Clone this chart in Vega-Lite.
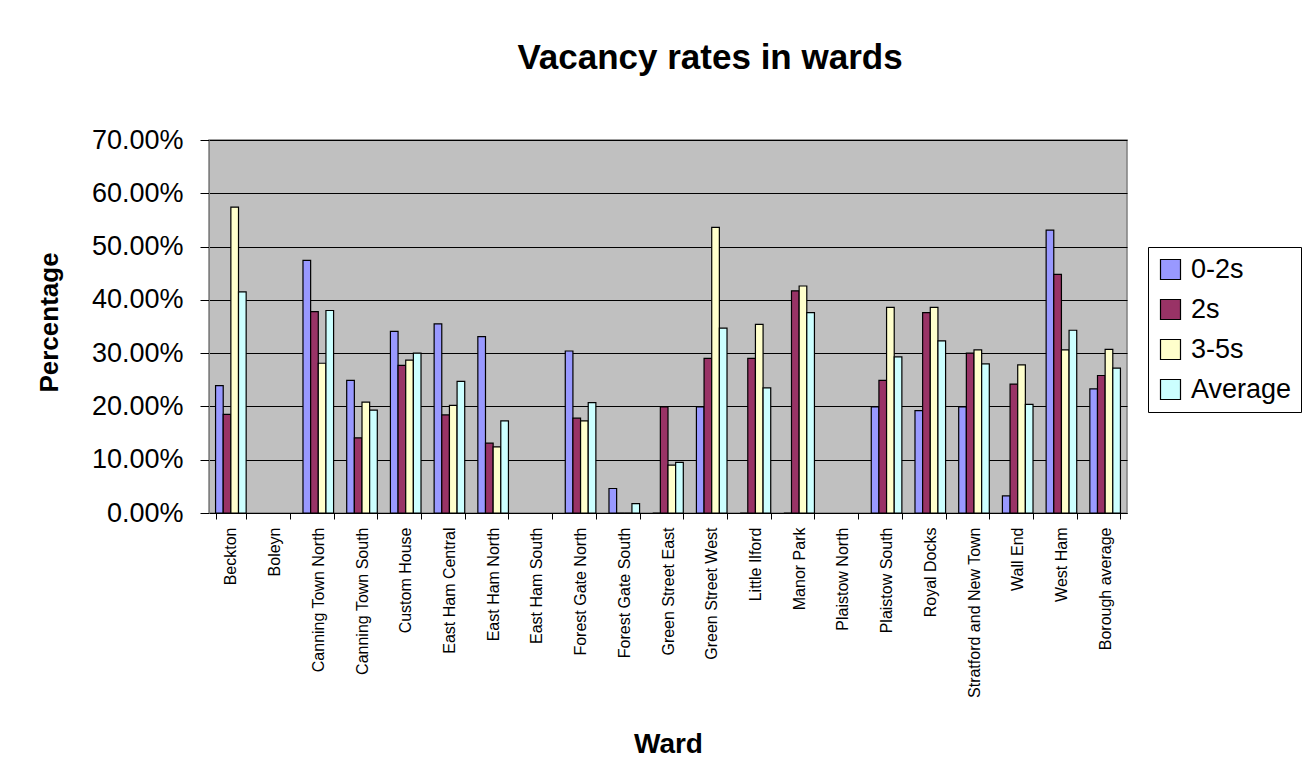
{
  "$schema": "https://vega.github.io/schema/vega-lite/v6.json",
  "width": 918,
  "height": 373,
  "autosize": {"type": "none"},
  "padding": {"left": 209, "top": 140, "right": 185, "bottom": 270},
  "background": "white",
  "title": {
    "text": "Vacancy rates in wards",
    "font": "Liberation Sans",
    "fontSize": 35,
    "fontWeight": "bold",
    "color": "black",
    "anchor": "middle",
    "frame": "group",
    "dx": 42,
    "offset": 50
  },
  "data": {
    "values": [
      {"ward": "Beckton", "series": "0-2s", "value": 0.239},
      {"ward": "Beckton", "series": "2s", "value": 0.185},
      {"ward": "Beckton", "series": "3-5s", "value": 0.574},
      {"ward": "Beckton", "series": "Average", "value": 0.415},
      {"ward": "Canning Town North", "series": "0-2s", "value": 0.474},
      {"ward": "Canning Town North", "series": "2s", "value": 0.378},
      {"ward": "Canning Town North", "series": "3-5s", "value": 0.281},
      {"ward": "Canning Town North", "series": "Average", "value": 0.380},
      {"ward": "Canning Town South", "series": "0-2s", "value": 0.249},
      {"ward": "Canning Town South", "series": "2s", "value": 0.141},
      {"ward": "Canning Town South", "series": "3-5s", "value": 0.208},
      {"ward": "Canning Town South", "series": "Average", "value": 0.193},
      {"ward": "Custom House", "series": "0-2s", "value": 0.341},
      {"ward": "Custom House", "series": "2s", "value": 0.277},
      {"ward": "Custom House", "series": "3-5s", "value": 0.287},
      {"ward": "Custom House", "series": "Average", "value": 0.300},
      {"ward": "East Ham Central", "series": "0-2s", "value": 0.355},
      {"ward": "East Ham Central", "series": "2s", "value": 0.184},
      {"ward": "East Ham Central", "series": "3-5s", "value": 0.202},
      {"ward": "East Ham Central", "series": "Average", "value": 0.247},
      {"ward": "East Ham North", "series": "0-2s", "value": 0.331},
      {"ward": "East Ham North", "series": "2s", "value": 0.131},
      {"ward": "East Ham North", "series": "3-5s", "value": 0.124},
      {"ward": "East Ham North", "series": "Average", "value": 0.173},
      {"ward": "Forest Gate North", "series": "0-2s", "value": 0.304},
      {"ward": "Forest Gate North", "series": "2s", "value": 0.178},
      {"ward": "Forest Gate North", "series": "3-5s", "value": 0.173},
      {"ward": "Forest Gate North", "series": "Average", "value": 0.207},
      {"ward": "Forest Gate South", "series": "0-2s", "value": 0.046},
      {"ward": "Forest Gate South", "series": "2s", "value": 0},
      {"ward": "Forest Gate South", "series": "3-5s", "value": 0},
      {"ward": "Forest Gate South", "series": "Average", "value": 0.0175},
      {"ward": "Green Street East", "series": "0-2s", "value": 0},
      {"ward": "Green Street East", "series": "2s", "value": 0.199},
      {"ward": "Green Street East", "series": "3-5s", "value": 0.090},
      {"ward": "Green Street East", "series": "Average", "value": 0.095},
      {"ward": "Green Street West", "series": "0-2s", "value": 0.199},
      {"ward": "Green Street West", "series": "2s", "value": 0.290},
      {"ward": "Green Street West", "series": "3-5s", "value": 0.536},
      {"ward": "Green Street West", "series": "Average", "value": 0.347},
      {"ward": "Little Ilford", "series": "0-2s", "value": 0},
      {"ward": "Little Ilford", "series": "2s", "value": 0.290},
      {"ward": "Little Ilford", "series": "3-5s", "value": 0.354},
      {"ward": "Little Ilford", "series": "Average", "value": 0.235},
      {"ward": "Manor Park", "series": "0-2s", "value": 0},
      {"ward": "Manor Park", "series": "2s", "value": 0.417},
      {"ward": "Manor Park", "series": "3-5s", "value": 0.426},
      {"ward": "Manor Park", "series": "Average", "value": 0.376},
      {"ward": "Plaistow South", "series": "0-2s", "value": 0.199},
      {"ward": "Plaistow South", "series": "2s", "value": 0.249},
      {"ward": "Plaistow South", "series": "3-5s", "value": 0.386},
      {"ward": "Plaistow South", "series": "Average", "value": 0.293},
      {"ward": "Royal Docks", "series": "0-2s", "value": 0.192},
      {"ward": "Royal Docks", "series": "2s", "value": 0.376},
      {"ward": "Royal Docks", "series": "3-5s", "value": 0.386},
      {"ward": "Royal Docks", "series": "Average", "value": 0.323},
      {"ward": "Stratford and New Town", "series": "0-2s", "value": 0.199},
      {"ward": "Stratford and New Town", "series": "2s", "value": 0.300},
      {"ward": "Stratford and New Town", "series": "3-5s", "value": 0.306},
      {"ward": "Stratford and New Town", "series": "Average", "value": 0.280},
      {"ward": "Wall End", "series": "0-2s", "value": 0.032},
      {"ward": "Wall End", "series": "2s", "value": 0.242},
      {"ward": "Wall End", "series": "3-5s", "value": 0.278},
      {"ward": "Wall End", "series": "Average", "value": 0.204},
      {"ward": "West Ham", "series": "0-2s", "value": 0.531},
      {"ward": "West Ham", "series": "2s", "value": 0.448},
      {"ward": "West Ham", "series": "3-5s", "value": 0.306},
      {"ward": "West Ham", "series": "Average", "value": 0.343},
      {"ward": "Borough average", "series": "0-2s", "value": 0.233},
      {"ward": "Borough average", "series": "2s", "value": 0.258},
      {"ward": "Borough average", "series": "3-5s", "value": 0.307},
      {"ward": "Borough average", "series": "Average", "value": 0.272}
    ]
  },
  "mark": {"type": "bar", "stroke": "black", "strokeWidth": 1.2},
  "encoding": {
    "x": {
      "field": "ward",
      "type": "nominal",
      "scale": {
        "domain": ["Beckton", "Boleyn", "Canning Town North", "Canning Town South", "Custom House", "East Ham Central", "East Ham North", "East Ham South", "Forest Gate North", "Forest Gate South", "Green Street East", "Green Street West", "Little Ilford", "Manor Park", "Plaistow North", "Plaistow South", "Royal Docks", "Stratford and New Town", "Wall End", "West Ham", "Borough average"],
        "paddingInner": 0.3,
        "paddingOuter": 0.15
      },
      "axis": {
        "title": "Ward",
        "titleFont": "Liberation Sans",
        "titleFontSize": 28,
        "titleFontWeight": "bold",
        "titleColor": "black",
        "titleY": 231,
        "titleBaseline": "middle",
        "labelAngle": -90,
        "labelAlign": "right",
        "labelBaseline": "middle",
        "labelFont": "Liberation Sans",
        "labelFontSize": 16,
        "labelColor": "black",
        "labelPadding": 8,
        "labelLimit": 400,
        "tickBand": "extent",
        "tickSize": 6,
        "tickColor": "black",
        "domainColor": "black",
        "grid": false
      }
    },
    "xOffset": {
      "field": "series",
      "type": "nominal",
      "scale": {"domain": ["0-2s", "2s", "3-5s", "Average"], "paddingInner": 0, "paddingOuter": 0}
    },
    "y": {
      "field": "value",
      "type": "quantitative",
      "scale": {"domain": [0, 0.7], "nice": false},
      "axis": {
        "title": "Percentage",
        "titleFont": "Liberation Sans",
        "titleFontSize": 26,
        "titleFontWeight": "bold",
        "titleColor": "black",
        "titleX": -160,
        "titleY": 182,
        "titleBaseline": "middle",
        "format": ".2%",
        "values": [0, 0.1, 0.2, 0.3, 0.4, 0.5, 0.6, 0.7],
        "labelFont": "Liberation Sans",
        "labelFontSize": 27,
        "labelColor": "black",
        "labelPadding": 17,
        "tickSize": 9,
        "tickColor": "black",
        "domainColor": "#808080",
        "grid": true,
        "gridColor": "black",
        "gridWidth": 1
      }
    },
    "fill": {
      "field": "series",
      "type": "nominal",
      "scale": {"domain": ["0-2s", "2s", "3-5s", "Average"], "range": ["#9999FF", "#993366", "#FFFFCC", "#CCFFFF"]},
      "legend": {
        "title": null,
        "orient": "none",
        "legendX": 939,
        "legendY": 107,
        "padding": 9,
        "strokeColor": "black",
        "fillColor": "white",
        "symbolType": "square",
        "symbolSize": 400,
        "symbolStrokeColor": "black",
        "symbolStrokeWidth": 1.2,
        "labelFont": "Liberation Sans",
        "labelFontSize": 27,
        "labelColor": "black",
        "labelOffset": 7,
        "rowPadding": 12,
        "labelLimit": 300
      }
    }
  },
  "config": {
    "view": {"fill": "#C0C0C0", "stroke": "#808080", "strokeWidth": 1.5}
  }
}
